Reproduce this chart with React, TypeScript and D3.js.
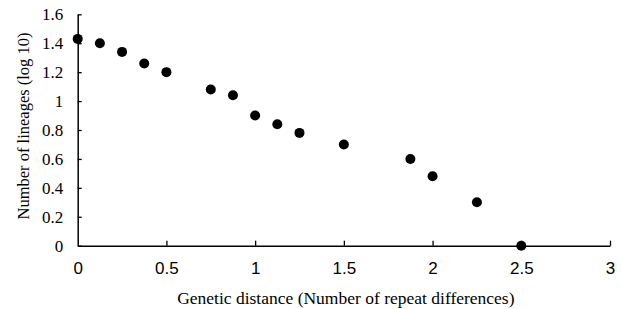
import { useEffect, useRef } from "react";
import * as d3 from "d3";

// genetic distance (number of repeat differences)
const distance = [0, 0.125, 0.25, 0.375, 0.5, 0.75, 0.875, 1, 1.125, 1.25, 1.5, 1.875, 2, 2.25, 2.5];
// number of lineages (log 10)
const lineages = [1.43, 1.4, 1.34, 1.26, 1.2, 1.08, 1.04, 0.9, 0.84, 0.78, 0.7, 0.6, 0.48, 0.3, 0.0];

const xTicks = [0, 0.5, 1, 1.5, 2, 2.5, 3];
const yTicks = [0, 0.2, 0.4, 0.6, 0.8, 1, 1.2, 1.4, 1.6];

const SERIF = "Liberation Serif, DejaVu Serif, serif";
const SANS = "Liberation Sans, Arial, sans-serif";

export default function App() {
  const svgRef = useRef<SVGSVGElement>(null);

  useEffect(() => {
    const svg = d3.select(svgRef.current);
    svg.selectAll("*").remove();

    const width = 621;
    const height = 309;
    const margin = { top: 14.3, right: 11, bottom: 63.3, left: 77.7 };

    const x = d3.scaleLinear().domain([0, 3]).range([margin.left, width - margin.right]);
    const y = d3.scaleLinear().domain([0, 1.6]).range([height - margin.bottom, margin.top]);

    // y axis, ticks inside
    const gy = svg
      .append("g")
      .attr("transform", `translate(${margin.left},0)`)
      .call(
        d3
          .axisRight(y)
          .tickValues(yTicks)
          .tickSize(4)
          .tickSizeOuter(0)
          .tickFormat((d) => d3.format("")(+d))
      )
      .attr("font-family", SERIF)
      .attr("font-size", 17);
    gy.select(".domain").attr("stroke", "#000").attr("stroke-width", 1.5);
    gy.selectAll("line").attr("stroke", "#000").attr("stroke-width", 1.3);
    gy.selectAll("text").attr("x", -14.4).attr("text-anchor", "end").attr("fill", "#000");

    // x axis, ticks inside
    const gx = svg
      .append("g")
      .attr("transform", `translate(0,${y(0)})`)
      .call(
        d3
          .axisTop(x)
          .tickValues(xTicks)
          .tickSize(5)
          .tickSizeOuter(0)
          .tickFormat((d) => d3.format("")(+d))
      )
      .attr("font-family", SANS)
      .attr("font-size", 17);
    gx.select(".domain").attr("stroke", "#000").attr("stroke-width", 1.5);
    gx.selectAll("line").attr("stroke", "#000").attr("stroke-width", 1.3);
    gx.selectAll("text").attr("y", 28.6).attr("dy", null).attr("fill", "#000");
    gx.selectAll(".tick")
      .filter((d) => +d === 0)
      .select("line")
      .remove();

    // points
    svg
      .append("g")
      .selectAll("circle")
      .data(distance.map((d, i) => ({ d, v: lineages[i] })))
      .enter()
      .append("circle")
      .attr("cx", (p) => x(p.d))
      .attr("cy", (p) => y(p.v))
      .attr("r", 5)
      .attr("fill", "#000");

    // axis titles
    svg
      .append("text")
      .attr("x", (margin.left + width - margin.right) / 2 + 2)
      .attr("y", 304)
      .attr("text-anchor", "middle")
      .attr("font-family", SERIF)
      .attr("font-size", 17.5)
      .text("Genetic distance (Number of repeat differences)");

    svg
      .append("text")
      .attr("transform", `translate(29,126) rotate(-90)`)
      .attr("text-anchor", "middle")
      .attr("font-family", SERIF)
      .attr("font-size", 16.5)
      .text("Number of lineages (log 10)");
  }, []);

  return (
    <svg
      ref={svgRef}
      width={621}
      height={309}
      style={{ position: "absolute", left: 0, top: 0, background: "#fff" }}
    />
  );
}
